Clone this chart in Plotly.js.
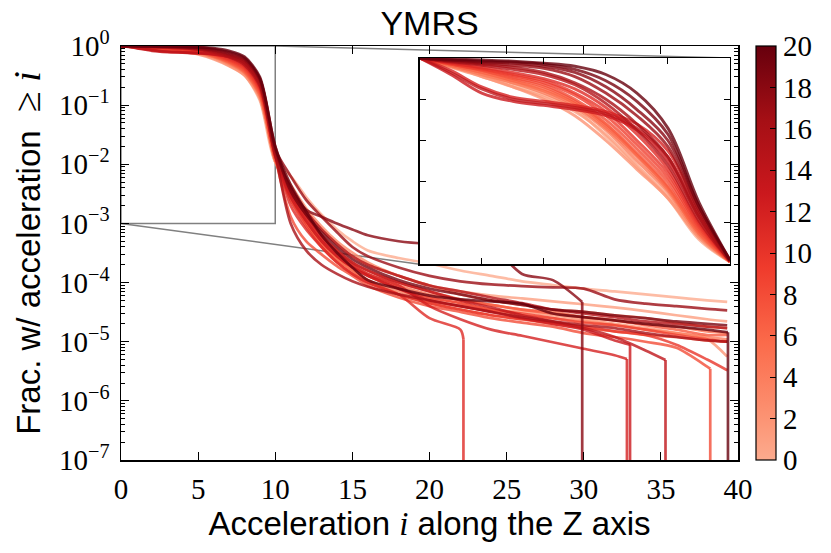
<!DOCTYPE html>
<html>
<head>
<meta charset="utf-8">
<script src="https://cdn.plot.ly/plotly-3.0.1.min.js"></script>
<style>
  html, body { margin: 0; padding: 0; background: #fff; }
  #chart { width: 831px; height: 553px; }
</style>
</head>
<body>
<div id="chart"></div>
<script>
// sample positions on the acceleration axis
var X_GRID = [0,1,2,3,4,5,6,7,8,9,10,11,12,13,14,15,16,18,20,22,24,26,28,30,32,34,36,38,39.3];

// fraction >= i, one array per run (colour value = index 0..20)
var s00 = [1,.96,.92,.87,.82,.75,.62,.47,.32,.12,.011, 6.3e-3,2.8e-3,1.4e-3,7.9e-4,5.0e-4,3.5e-4,2.6e-4,2.1e-4,1.6e-4,1.3e-4,1.05e-4,9.1e-5,7.9e-5,7.1e-5,6.3e-5,5.6e-5,5.0e-5,4.7e-5];
var s01 = [1,.955,.91,.86,.81,.74,.63,.48,.33,.13,.011, 4.0e-3,1.6e-3,7.9e-4,4.5e-4,2.8e-4,2.0e-4,1.3e-4,8.9e-5,7.1e-5,6.0e-5,5.4e-5,4.8e-5,4.3e-5,3.8e-5,3.3e-5,2.8e-5,2.4e-5,2.2e-5];
var s02 = [1,.96,.91,.86,.8,.72,.6,.46,.32,.13,.011, 3.2e-3,1.1e-3,5.0e-4,2.8e-4,1.8e-4,1.3e-4,7.9e-5,5.6e-5,4.5e-5,3.5e-5,3.2e-5,2.8e-5,2.4e-5,2.0e-5,1.7e-5,1.4e-5,1.1e-5,5.6e-6];
var s03 = [1,.96,.92,.88,.84,.78,.68,.53,.37,.15,.012, 4.5e-3,1.8e-3,8.9e-4,5.0e-4,3.2e-4,2.2e-4,1.3e-4,8.9e-5,6.3e-5,5.0e-5,4.2e-5,3.5e-5,3.2e-5,2.8e-5,2.5e-5,2.1e-5,1.8e-5,1.7e-5];
var s04 = [1,.96,.92,.88,.83,.76,.65,.5,.35,.14,.012, 2.5e-3,1.0e-3,4.5e-4,2.5e-4,1.6e-4,1.1e-4,7.1e-5,5.0e-5,4.0e-5,3.3e-5,2.8e-5,2.5e-5,2.2e-5,1.9e-5,1.6e-5,1.4e-5,1.2e-5,1.1e-5];
var s05 = [1,.965,.93,.89,.84,.77,.66,.52,.36,.15,.012, 3.5e-3,1.3e-3,5.6e-4,3.2e-4,2.0e-4,1.4e-4,8.9e-5,6.3e-5,5.0e-5,4.2e-5,3.5e-5,3.2e-5,2.6e-5,2.3e-5,2.0e-5,1.8e-5,1.5e-5,1.4e-5];
var s06 = [1,.965,.93,.89,.85,.78,.67,.53,.37,.15,.012, 2.8e-3,1.0e-3,4.5e-4,2.5e-4,1.6e-4,1.1e-4,6.3e-5,4.5e-5,3.5e-5,2.8e-5,2.4e-5,2.0e-5,1.7e-5,1.5e-5,1.3e-5,1.2e-5,1.05e-5,1.0e-5];
var s07 = [1,.97,.94,.9,.86,.79,.68,.54,.38,.16,.012, 4.0e-3,1.4e-3,6.3e-4,3.5e-4,2.2e-4,1.6e-4,1.0e-4,7.1e-5,5.2e-5,4.2e-5,3.5e-5,3.0e-5,2.6e-5,2.3e-5,1.9e-5,1.6e-5,1.3e-5,1.3e-5];
var s08 = [1,.97,.94,.905,.87,.8,.7,.56,.4,.17,.013, 1.3e-3,5.0e-4,3.0e-4,1.9e-4,1.3e-4,8.9e-5,5.6e-5,4.0e-5,3.2e-5,2.5e-5,2.1e-5,1.8e-5,1.4e-5,1.2e-5,1.0e-5,7.9e-6,3.8e-6];
var s09 = [1,.97,.945,.915,.88,.82,.72,.58,.42,.18,.013, 3.2e-3,1.1e-3,5.0e-4,2.8e-4,1.8e-4,1.3e-4,7.9e-5,5.6e-5,4.5e-5,3.5e-5,3.0e-5,2.5e-5,2.1e-5,1.9e-5,1.6e-5,1.3e-5,1.1e-5,1.0e-5];
var s10 = [1,.975,.95,.92,.89,.83,.74,.6,.44,.19,.014, 2.5e-3,8.9e-4,4.0e-4,2.2e-4,1.4e-4,1.0e-4,6.3e-5,4.5e-5,3.5e-5,2.8e-5,2.4e-5,2.1e-5,1.8e-5,1.5e-5,1.3e-5,8.9e-6,5.0e-6,3.3e-6];
var s11 = [1,.975,.955,.93,.9,.85,.76,.63,.46,.2,.015, 2.0e-3,7.9e-4,4.0e-4,2.2e-4,1.4e-4,1.0e-4,6.3e-5,2.5e-5,1.6e-5];
var s12 = [1,.94,.86,.81,.79,.77,.74,.68,.55,.26,.015, 3.2e-3,1.3e-3,5.6e-4,3.2e-4,2.0e-4,1.4e-4,8.9e-5,4.0e-5,2.4e-5,1.6e-5,1.26e-5,9.8e-6,7.6e-6,5.9e-6];
var s13 = [1,.92,.83,.79,.77,.75,.72,.65,.5,.23,.014, 2.8e-3,1.1e-3,5.0e-4,2.8e-4,1.8e-4,1.3e-4,7.9e-5,5.0e-5,4.0e-5,3.2e-5,2.5e-5,2.0e-5,1.6e-5,1.05e-5];
var s14 = [1,.93,.85,.8,.78,.76,.73,.66,.52,.24,.014, 3.5e-3,1.4e-3,6.3e-4,3.5e-4,2.2e-4,1.6e-4,1.0e-4,7.1e-5,5.0e-5,3.8e-5,2.8e-5,2.2e-5,1.7e-5,1.2e-5,7.1e-6];
var s15 = [1,.98,.965,.945,.92,.87,.78,.65,.48,.21,.015, 4.0e-3,1.6e-3,7.9e-4,4.5e-4,2.8e-4,2.0e-4,1.3e-4,8.9e-5,7.1e-5,5.6e-5,4.5e-5,3.5e-5,3.0e-5,2.6e-5,2.2e-5,2.0e-5,1.8e-5,1.7e-5];
var s16 = [1,.985,.97,.955,.93,.88,.8,.68,.52,.23,.015, 1.0e-3,3.5e-4,2.0e-4,1.4e-4,1.05e-4,8.5e-5,6.3e-5,5.0e-5,4.0e-5,3.2e-5,2.6e-5,2.2e-5,1.9e-5,1.7e-5,1.4e-5,1.2e-5,1.05e-5,1.0e-5];
var s17 = [1,.985,.975,.965,.95,.91,.83,.72,.57,.26,.018, 6.3e-3,2.5e-3,1.3e-3,7.1e-4,4.0e-4,2.8e-4,1.8e-4,1.3e-4,1.05e-4,9.3e-5,8.7e-5,8.3e-5,7.9e-5,5.2e-5,4.4e-5,4.0e-5,3.6e-5,3.4e-5];
var s18 = [1,.99,.98,.975,.96,.93,.86,.75,.6,.28,.018, 4.0e-3,1.7e-3,1.3e-3,1.0e-3,7.9e-4,6.3e-4,5.0e-4,4.5e-4,4.3e-4,4.0e-4,1.4e-4,1.1e-4];
var s19 = [1,.99,.985,.98,.97,.945,.89,.79,.63,.28,.02, 3.5e-3,1.4e-3,7.1e-4,4.0e-4,2.5e-4,1.8e-4,1.1e-4,7.9e-5,6.3e-5,5.0e-5,4.2e-5,3.5e-5,3.2e-5,2.8e-5,2.5e-5,2.2e-5,2.0e-5,1.9e-5];
var s20 = [1,.995,.99,.985,.975,.96,.92,.83,.66,.3,.02, 4.5e-3,1.6e-3,6.3e-4,3.2e-4,1.8e-4,1.1e-4,7.9e-5,6.0e-5,5.2e-5,4.8e-5,4.4e-5,3.0e-5,2.6e-5,2.3e-5,2.0e-5,1.8e-5,1.6e-5,1.45e-5];

// runs whose fraction falls to zero: last point before the vertical drop
var DROP_SERIES = [8, 11, 12, 13, 14, 18, 20];
var DROP_X = [38.2, 22.2, 32.8, 33.0, 35.3, 29.9, 39.35];
var DROP_Y = [3.5e-6, 1.1e-5, 5.1e-6, 8.9e-6, 4.9e-6, 4.7e-5, 1.45e-5];
var ZERO_ON_LOG = 1e-12;   // stands in for 0 (below the axis)

var Y_TICKS = [1e-7,1e-6,1e-5,1e-4,1e-3,1e-2,1e-1,1];
var Y_TICK_TEXT = ['10<sup>\u22127</sup>','10<sup>\u22126</sup>','10<sup>\u22125</sup>','10<sup>\u22124</sup>',
                   '10<sup>\u22123</sup>','10<sup>\u22122</sup>','10<sup>\u22121</sup>','10<sup>0</sup>'];
var CB_TICKS = [0,2,4,6,8,10,12,14,16,18,20];

var ALL = [s00,s01,s02,s03,s04,s05,s06,s07,s08,s09,s10,s11,s12,s13,s14,s15,s16,s17,s18,s19,s20];
var N_INSET = 11; // points 0..10 shown in the zoom panel

// Reds colormap, lower part cut off (as in the colour bar)
var STOPS = [[0,[252,171,142]],[0.107,[252,146,114]],[0.286,[251,106,74]],[0.464,[239,59,44]],
             [0.643,[203,24,29]],[0.821,[165,15,21]],[1,[103,0,13]]];
function cmap(t){
  for (var k = 1; k < STOPS.length; k++) {
    if (t <= STOPS[k][0]) {
      var a = STOPS[k-1], b = STOPS[k], f = (t - a[0]) / (b[0] - a[0]);
      var c = [0,1,2].map(function(j){ return Math.round(a[1][j] + f*(b[1][j]-a[1][j])); });
      return 'rgb(' + c.join(',') + ')';
    }
  }
  return 'rgb(103,0,13)';
}
var colorscale = STOPS.map(function(s){ return [s[0], 'rgb(' + s[1].join(',') + ')']; });

var SERIF = 'Liberation Serif, DejaVu Serif, serif';
var SANS = 'Liberation Sans, Arial, sans-serif';

var traces = [];
ALL.forEach(function(ys, i){
  var col = cmap(i / 20);
  var xs = X_GRID.slice(0, ys.length);
  var yy = ys.slice();
  var d = DROP_SERIES.indexOf(i);
  if (d >= 0) {
    xs = xs.concat([DROP_X[d]]);
    yy = yy.concat([DROP_Y[d]]);
  }
  traces.push({
    x: xs, y: yy, type: 'scatter', mode: 'lines',
    line: {color: col, width: 2.7, shape: 'spline', smoothing: 0.8}, opacity: 0.8,
    xaxis: 'x', yaxis: 'y', hoverinfo: 'skip', showlegend: false
  });
  if (d >= 0) {
    // fall to zero
    traces.push({
      x: [DROP_X[d], DROP_X[d]], y: [DROP_Y[d], ZERO_ON_LOG], type: 'scatter', mode: 'lines',
      line: {color: col, width: 2.7}, opacity: 0.8,
      xaxis: 'x', yaxis: 'y', hoverinfo: 'skip', showlegend: false
    });
  }
});
// zoom panel, linear scale
ALL.forEach(function(ys, i){
  traces.push({
    x: X_GRID.slice(0, N_INSET), y: ys.slice(0, N_INSET), type: 'scatter', mode: 'lines',
    line: {color: cmap(i / 20), width: 2.9, shape: 'spline', smoothing: 1}, opacity: 0.8,
    xaxis: 'x2', yaxis: 'y2', hoverinfo: 'skip', showlegend: false
  });
});
// colour bar carrier
traces.push({
  x: [0], y: [ZERO_ON_LOG], type: 'scatter', mode: 'markers', hoverinfo: 'skip', showlegend: false,
  xaxis: 'x', yaxis: 'y',
  marker: {
    color: [0], cmin: 0, cmax: 20, colorscale: colorscale, showscale: true, size: 1,
    colorbar: {
      x: 1.029, xanchor: 'left', y: 0.5, yanchor: 'middle', len: 1, lenmode: 'fraction',
      thickness: 20, thicknessmode: 'pixels', xpad: 0, ypad: 0,
      outlinewidth: 1.2, outlinecolor: 'black',
      tickvals: CB_TICKS, ticks: 'inside', ticklen: 6, tickcolor: 'black',
      tickfont: {family: SERIF, size: 29, color: 'black'}
    }
  }
});

var layout = {
  width: 831, height: 553,
  margin: {l: 121, r: 90, t: 46, b: 93},
  paper_bgcolor: 'white', plot_bgcolor: 'white',
  title: {text: 'YMRS', font: {family: SANS, size: 34, color: 'black'},
          x: 0.5, xref: 'paper', y: 0.958, yref: 'container', yanchor: 'middle'},
  xaxis: {
    range: [0, 40], dtick: 5, tick0: 0, showgrid: false, zeroline: false,
    showline: true, linecolor: 'black', linewidth: 1.5, mirror: 'ticks',
    ticks: 'inside', ticklen: 8, tickwidth: 1.2, tickcolor: 'black',
    tickfont: {family: SERIF, size: 29, color: 'black'}, ticklabelstandoff: 3,
    title: {text: 'Acceleration <span style="font-family:Liberation Serif"><i>i</i></span> along the Z axis',
            font: {family: SANS, size: 33, color: 'black'}, standoff: 6}
  },
  yaxis: {
    type: 'log', range: [-7, 0], showgrid: false, zeroline: false,
    tickvals: Y_TICKS, ticktext: Y_TICK_TEXT,
    showline: true, linecolor: 'black', linewidth: 1.5, mirror: 'ticks',
    ticks: 'inside', ticklen: 8, tickwidth: 1.2, tickcolor: 'black',
    minor: {ticks: 'inside', ticklen: 4, tickwidth: 1, tickcolor: 'black', dtick: 'D1', showgrid: false},
    tickfont: {family: SERIF, size: 29, color: 'black'}, ticklabelstandoff: 4,
    title: {text: 'Frac. w/ acceleration  <span style="font-family:Liberation Serif;font-size:38px">\u2265 <i>i</i></span>\u00a0\u00a0',
            font: {family: SANS, size: 33, color: 'black'}, standoff: 8}
  },
  xaxis2: {
    domain: [0.484, 0.987], anchor: 'y2', range: [0, 10], dtick: 2, showticklabels: false,
    showgrid: false, zeroline: false, showline: true, linecolor: 'black', linewidth: 1.5, mirror: 'ticks',
    ticks: 'inside', ticklen: 6, tickcolor: 'black'
  },
  yaxis2: {
    domain: [0.473, 0.971], anchor: 'x2', range: [0, 1], dtick: 0.2, showticklabels: false,
    showgrid: false, zeroline: false, showline: true, linecolor: 'black', linewidth: 1.5, mirror: 'ticks',
    ticks: 'inside', ticklen: 6, tickcolor: 'black'
  },
  shapes: [
    {type: 'rect', xref: 'x', yref: 'y', x0: 0, x1: 10, y0: 1e-3, y1: 1,
     line: {color: 'rgb(128,128,128)', width: 1.5}, layer: 'below'},
    {type: 'line', xref: 'paper', yref: 'paper', x0: 0, y0: 4/7, x1: 0.484, y1: 0.473,
     line: {color: 'rgb(128,128,128)', width: 1.5}, layer: 'below'},
    {type: 'line', xref: 'paper', yref: 'paper', x0: 0.25, y0: 1, x1: 0.987, y1: 0.971,
     line: {color: 'rgb(128,128,128)', width: 1.5}, layer: 'below'}
  ]
};

Plotly.newPlot('chart', traces, layout, {displayModeBar: false, staticPlot: true});
</script>
</body>
</html>
